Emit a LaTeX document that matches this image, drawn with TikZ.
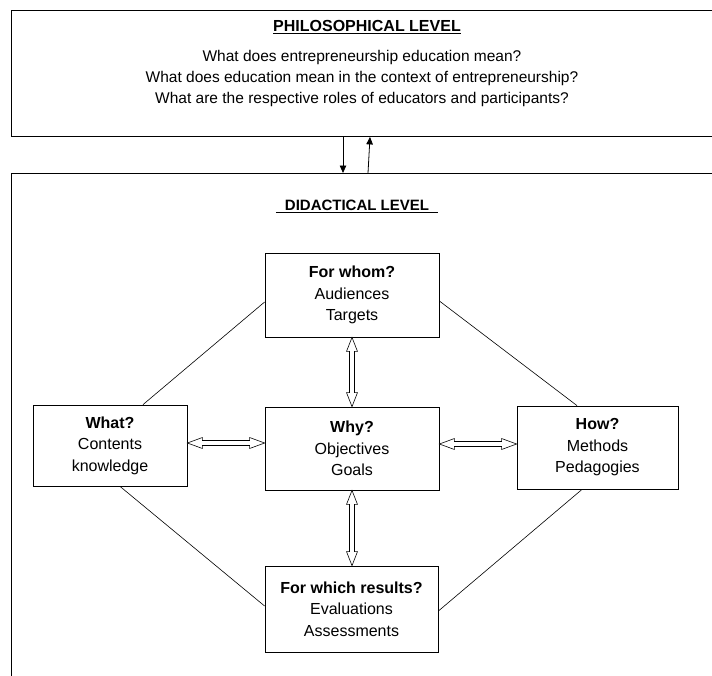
\documentclass[tikz,border=0pt]{standalone}
\usepackage{fontspec}
\setmainfont{Liberation Sans}
\usetikzlibrary{calc,arrows.meta}
\tikzset{
  outer/.style={draw, line width=0.9pt, inner sep=0pt},
  box/.style={draw, line width=0.8pt, align=center, inner sep=0pt, font=\fontsize{16}{21.5}\selectfont},
  link/.style={line width=0.6pt},
  flow/.style={line width=0.8pt, -{Triangle[length=7.5pt,width=6.5pt]}},
  hollow/.style={draw, line width=0.6pt, fill=white, line join=miter}
}
\newcommand\hollowV[2]{%
  \draw[hollow] let \p1=(#1), \p2=(#2) in
    (\x1,\y1) -- (\x1+5.5,\y1-14) -- (\x1+2.5,\y1-14) -- (\x1+2.5,\y2+14) -- (\x1+5.5,\y2+14)
    -- (\x1,\y2) -- (\x1-5.5,\y2+14) -- (\x1-2.5,\y2+14) -- (\x1-2.5,\y1-14) -- (\x1-5.5,\y1-14) -- cycle;}
\newcommand\hollowH[3]{%
  \draw[hollow] let \p1=(#1), \p2=(#2) in
    (\x1,\y1+#3) -- (\x1+15,\y1+#3+5.5) -- (\x1+15,\y1+#3+2.5) -- (\x2-15,\y1+#3+2.5) -- (\x2-15,\y1+#3+5.5)
    -- (\x2,\y1+#3) -- (\x2-15,\y1+#3-5.5) -- (\x2-15,\y1+#3-2.5) -- (\x1+15,\y1+#3-2.5) -- (\x1+15,\y1+#3-5.5) -- cycle;}
\begin{document}
\begin{tikzpicture}[x=1pt,y=-1pt]
\useasboundingbox (0,0) rectangle (712,675);
\clip (0,0) rectangle (712,675);
\fill[white] (0,0) rectangle (712,675);

% outer level boxes
\node[outer, anchor=north west, minimum width=760pt, minimum height=126pt] (phil) at (11,10) {};
\node[outer, anchor=north west, minimum width=760pt, minimum height=600pt] (did) at (11,173) {};

% philosophical level text
\node[font=\bfseries\fontsize{16}{19}\selectfont, inner sep=0pt] (philtitle) at (367,27) {\underline{PHILOSOPHICAL LEVEL}};
\node[font=\fontsize{15.5}{21}\selectfont, align=center, inner sep=0pt] (philq) at (362,78)
  {What does entrepreneurship education mean?\\
   What does education mean in the context of entrepreneurship?\\
   What are the respective roles of educators and participants?};

% arrows between levels
\coordinate (d1) at (343,0);
\draw[flow] (phil.south -| d1) -- (did.north -| d1);
\draw[flow] ($(did.north -| d1)+(25,0)$) -- ($(phil.south -| d1)+(27,0)$);

% didactical level
\node[font=\bfseries\fontsize{15}{18}\selectfont, inner sep=0pt] (didtitle) at (357,206)
  {\underline{\hspace{9pt}DIDACTICAL LEVEL\hspace{9pt}}};

\node[box, minimum width=174pt, minimum height=84pt] (fw) at (352,295) {\textbf{For whom?}\\Audiences\\Targets};
\node[box, minimum width=174pt, minimum height=83pt] (why) at (352,448.5) {\textbf{Why?}\\Objectives\\Goals};
\node[box, minimum width=154pt, minimum height=81pt] (what) at (110,445.5) {\textbf{What?}\\Contents\\knowledge};
\node[box, minimum width=161pt, minimum height=83pt] (how) at (597.5,447.5) {\textbf{How?}\\Methods\\Pedagogies};
\node[box, minimum width=173pt, minimum height=86pt] (res) at (351.5,609) {\textbf{For which results?}\\Evaluations\\Assessments};

% diamond links
\draw[link] ($(fw.west)+(0,7)$) -- ($(what.north)+(33,0)$);
\draw[link] ($(fw.east)+(0,6)$) -- ($(how.north)+(-20.5,0)$);
\draw[link] ($(what.south)+(10,0)$) -- ($(res.west)+(0,-3)$);
\draw[link] ($(how.south)+(-15.5,0)$) -- ($(res.east)+(0,2)$);

% hollow double arrows
\hollowV{fw.south}{why.north}
\hollowV{why.south}{res.north}
\hollowH{what.east}{why.west}{2.5}
\hollowH{why.east}{how.west}{4.5}
\end{tikzpicture}
\end{document}
